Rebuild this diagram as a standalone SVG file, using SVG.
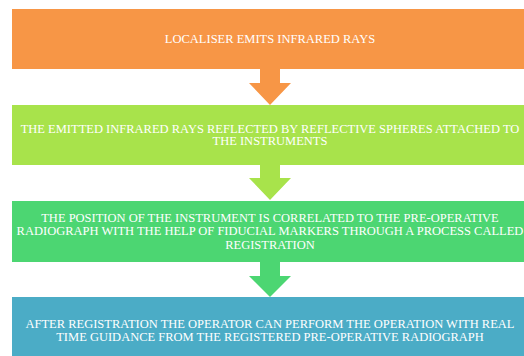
<svg xmlns="http://www.w3.org/2000/svg" width="524" height="356" viewBox="0 0 524 356">
  <style>
    .lbl { font-family: "Liberation Serif", "DejaVu Serif", serif; font-size: 12.5px; fill: #ffffff; text-anchor: middle; }
    .orange { fill: #F79646; }
    .lime { fill: #A8E34B; }
    .green { fill: #4CD672; }
    .blue { fill: #4BACC6; }
  </style>
  <rect width="524" height="356" fill="#ffffff"/>

  <g id="connectors">
    <path class="orange" d="M260 69 H280 V83 H291 L270 105 L249 83 H260 Z"/>
    <path class="lime" d="M260 165 H280 V178 H291 L270 200 L249 178 H260 Z"/>
    <path class="green" d="M260 262 H280 V276 H291 L270 297 L249 276 H260 Z"/>
  </g>

  <g id="step-emit">
    <rect class="orange" x="12" y="9" width="520" height="60"/>
    <text class="lbl" x="270" y="43">LOCALISER EMITS INFRARED RAYS</text>
  </g>

  <g id="step-reflect">
    <rect class="lime" x="12" y="105" width="520" height="60"/>
    <text class="lbl" x="270" y="132.5">THE EMITTED INFRARED RAYS REFLECTED BY REFLECTIVE SPHERES ATTACHED TO</text>
    <text class="lbl" x="270" y="145">THE INSTRUMENTS</text>
  </g>

  <g id="step-register">
    <rect class="green" x="12" y="201" width="520" height="61"/>
    <text class="lbl" x="270" y="221.5">THE POSITION OF THE INSTRUMENT IS CORRELATED TO THE PRE-OPERATIVE</text>
    <text class="lbl" x="270" y="235">RADIOGRAPH WITH THE HELP OF FIDUCIAL MARKERS THROUGH A PROCESS CALLED</text>
    <text class="lbl" x="270" y="248.5">REGISTRATION</text>
  </g>

  <g id="step-guidance">
    <rect class="blue" x="12" y="297" width="520" height="62"/>
    <text class="lbl" x="270" y="327.5">AFTER REGISTRATION THE OPERATOR CAN PERFORM THE OPERATION WITH REAL</text>
    <text class="lbl" x="270" y="341">TIME GUIDANCE FROM THE REGISTERED PRE-OPERATIVE RADIOGRAPH</text>
  </g>
</svg>
